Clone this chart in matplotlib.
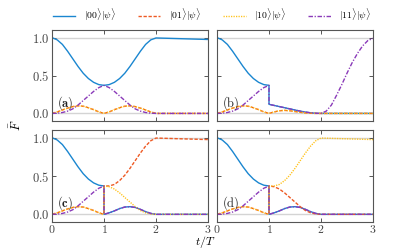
import numpy as np
import matplotlib
matplotlib.use("Agg")
import matplotlib.pyplot as plt

plt.rcParams["mathtext.fontset"] = "cm"
plt.rcParams["font.family"] = "serif"
plt.rcParams["font.serif"] = ["cmr10", "DejaVu Serif"]
plt.rcParams["axes.formatter.use_mathtext"] = True

# ------------------------------------------------------------
# Data: t/T grid before and after the measurement at t = T
# ------------------------------------------------------------
t_pre = [0.0, 0.1, 0.2, 0.3, 0.4, 0.5, 0.6, 0.7, 0.8, 0.9, 1.0]
t_post = [1.0, 1.1, 1.2, 1.3, 1.4, 1.5, 1.6, 1.7, 1.8, 1.9, 2.0,
          2.1, 2.2, 2.3, 2.4, 2.5, 2.6, 2.7, 2.8, 2.9, 3.0]

# common evolution up to t = T
f00_pre = [1.0, 0.97, 0.91, 0.82, 0.72, 0.62, 0.53, 0.46, 0.41, 0.38, 0.37]
f11_pre = [0.0, 0.003, 0.012, 0.03, 0.06, 0.11, 0.17, 0.23, 0.29, 0.34, 0.37]
f01_pre = [0.0, 0.02, 0.045, 0.07, 0.09, 0.1, 0.095, 0.075, 0.05, 0.02, 0.0]
f10_pre = [0.0, 0.02, 0.045, 0.07, 0.09, 0.1, 0.095, 0.075, 0.05, 0.02, 0.0]

# (a) no measurement
f00_a = [0.37, 0.38, 0.41, 0.46, 0.53, 0.62, 0.72, 0.82, 0.91, 0.97, 0.995,
         0.993, 0.991, 0.989, 0.987, 0.985, 0.983, 0.981, 0.979, 0.977, 0.975]
f11_a = [0.37, 0.34, 0.29, 0.23, 0.17, 0.11, 0.06, 0.03, 0.012, 0.003, 0.0,
         0, 0, 0, 0, 0, 0, 0, 0, 0, 0]
f01_a = [0.0, 0.02, 0.05, 0.075, 0.095, 0.1, 0.09, 0.07, 0.045, 0.02, 0.0,
         0, 0, 0, 0, 0, 0, 0, 0, 0, 0]
f10_a = f01_a

# (b)
f00_b = [0.12, 0.105, 0.09, 0.075, 0.06, 0.045, 0.03, 0.018, 0.008, 0.002, 0.0,
         0, 0, 0, 0, 0, 0, 0, 0, 0, 0]
f11_b = [0.12, 0.105, 0.09, 0.075, 0.06, 0.045, 0.03, 0.018, 0.008, 0.002, 0.0,
         0.03, 0.11, 0.24, 0.38, 0.53, 0.67, 0.79, 0.89, 0.96, 0.99]
f01_b = [0.0, 0.02, 0.035, 0.04, 0.035, 0.025, 0.015, 0.007, 0.002, 0.0, 0.0,
         0, 0, 0, 0, 0, 0, 0, 0, 0, 0]
f10_b = f01_b

# (c) and (d)
bump = [0.0, 0.02, 0.045, 0.075, 0.095, 0.1, 0.09, 0.065, 0.035, 0.012, 0.0,
        0, 0, 0, 0, 0, 0, 0, 0, 0, 0]
rise = [0.37, 0.37, 0.39, 0.44, 0.51, 0.6, 0.7, 0.8, 0.89, 0.96, 0.995,
        0.993, 0.991, 0.989, 0.987, 0.985, 0.983, 0.981, 0.979, 0.977, 0.975]
fall = [0.37, 0.36, 0.33, 0.28, 0.22, 0.16, 0.1, 0.05, 0.02, 0.005, 0.0,
        0, 0, 0, 0, 0, 0, 0, 0, 0, 0]

panels = {
    "a": (f00_a, f01_a, f10_a, f11_a),
    "b": (f00_b, f01_b, f10_b, f11_b),
    "c": (bump, rise, fall, bump),
    "d": (bump, fall, rise, bump),
}
bold = {"a": True, "b": False, "c": True, "d": False}

labels = [r"$|00\rangle|\psi\rangle$", r"$|01\rangle|\psi\rangle$",
          r"$|10\rangle|\psi\rangle$", r"$|11\rangle|\psi\rangle$"]
colors = ["#1a86d0", "#ee5a24", "#ffc21a", "#8a3ab9"]
styles = ["-", (0, (2.4, 1.2)), (0, (0.9, 0.9)), (0, (3.2, 1.2, 0.9, 1.2))]
pres = [f00_pre, f01_pre, f10_pre, f11_pre]

fig = plt.figure(figsize=(4.15, 2.49), dpi=100)
W, H = 415, 249
boxes = {"a": (52, 30, 156, 91), "b": (217, 30, 156, 91),
         "c": (52, 130, 156, 92), "d": (217, 130, 156, 92)}

t_all = t_pre + t_post
handles = []
for key, (x0, y0, w, h) in boxes.items():
    ax = fig.add_axes([x0 / W, 1 - (y0 + h) / H, w / W, h / H])
    ax.axhline(0, color="#d4d4d4", lw=1.0, zorder=0)
    ax.axhline(1, color="#d4d4d4", lw=1.0, zorder=0)
    for i in range(4):
        y = pres[i] + list(panels[key][i])
        ln, = ax.plot(t_all, y, color=colors[i], ls=styles[i], lw=1.0)
        if key == "a":
            handles.append(ln)
    ax.set_xlim(0, 3)
    ax.set_ylim(-0.1, 1.1)
    ax.set_xticks([0, 1, 2, 3])
    ax.set_yticks([0, 0.5, 1.0])
    ax.tick_params(direction="in", top=True, right=True, length=3,
                   width=0.7, color="#555555", labelsize=9, pad=2,
                   labelcolor="#444444")
    ax.tick_params(axis="x", labelsize=8.5, pad=1)
    for sp in ax.spines.values():
        sp.set_color("#555555")
        sp.set_linewidth(0.8)
    if key in ("a", "c"):
        ax.set_yticklabels([r"$0.0$", r"$0.5$", r"$1.0$"])
    else:
        ax.set_yticklabels([])
    if key in ("c", "d"):
        ax.set_xticklabels([r"$0$", r"$1$", r"$2$", r"$3$"])
    else:
        ax.set_xticklabels([])
    txt = r"$\mathbf{(%s)}$" % key if bold[key] else r"$(\mathrm{%s})$" % key
    ax.text(0.035, 0.2, txt, transform=ax.transAxes, fontsize=9,
            ha="left", va="center", color="#222222")

fig.legend(handles, labels, loc="center", bbox_to_anchor=(212 / W, 1 - 15 / H),
           ncol=4, frameon=False, fontsize=7, handlelength=2.3,
           handletextpad=0.9, columnspacing=2.3)
fig.text(15 / W, 1 - 125 / H, r"$\bar{F}$", rotation=90, ha="center",
         va="center", fontsize=9)
fig.text(205 / W, 1 - 245.3 / H, r"$t/T$", ha="center", va="baseline",
         fontsize=8.5)

fig.savefig("out.png", dpi=100)
